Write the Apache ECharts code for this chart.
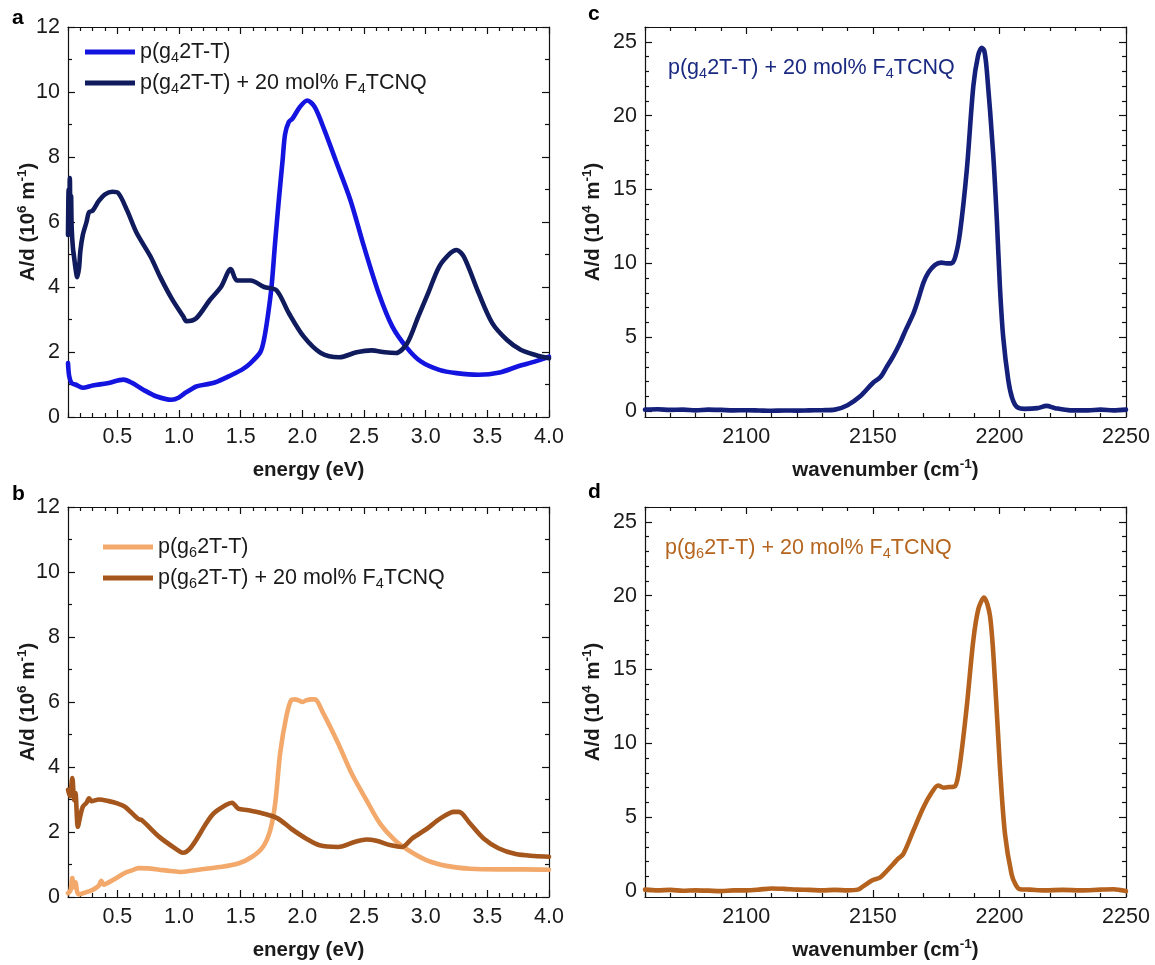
<!DOCTYPE html>
<html><head><meta charset="utf-8">
<script src="https://cdn.jsdelivr.net/npm/echarts@6/dist/echarts.min.js"></script>
<style>html,body{margin:0;padding:0;background:#fff}#chart{width:1155px;height:965px}</style>
</head><body><div id="chart"></div>
<script>
// ---------- DATA ----------
// Panel a: p(g4 2T-T)
const energyA1 = [0.10,0.11,0.13,0.16,0.22,0.30,0.42,0.55,0.62,0.71,0.82,0.94,1.00,1.05,1.11,1.14,1.29,1.43,1.52,1.58,1.66,1.69,1.72,1.75,1.78,1.81,1.84,1.86,1.89,1.92,1.98,2.04,2.10,2.18,2.27,2.39,2.50,2.62,2.73,2.85,2.96,3.11,3.25,3.43,3.60,3.75,3.89,4.00];
const valueA1  = [1.66,1.25,1.04,1.00,0.90,0.97,1.04,1.15,1.05,0.84,0.63,0.53,0.60,0.74,0.88,0.94,1.06,1.30,1.48,1.66,2.00,2.40,3.10,4.00,5.40,6.70,7.90,8.70,9.08,9.18,9.54,9.74,9.54,8.82,7.90,6.67,5.24,3.80,2.78,2.12,1.71,1.45,1.35,1.30,1.37,1.56,1.71,1.86];
// Panel a: p(g4 2T-T) + 20 mol% F4TCNQ
const energyA2 = [0.100,0.105,0.110,0.115,0.120,0.125,0.130,0.140,0.150,0.160,0.175,0.190,0.200,0.220,0.250,0.270,0.300,0.350,0.400,0.460,0.505,0.58,0.657,0.77,0.846,0.94,1.035,1.06,1.14,1.25,1.34,1.42,1.47,1.58,1.69,1.79,1.89,2.01,2.15,2.30,2.44,2.56,2.67,2.76,2.85,2.94,3.02,3.11,3.20,3.25,3.31,3.43,3.54,3.66,3.77,3.89,4.00];
const valueA2  = [5.6,7.0,6.0,7.35,5.7,6.8,5.8,5.2,4.9,4.6,4.3,4.6,5.1,5.6,6.0,6.3,6.35,6.65,6.85,6.93,6.90,6.35,5.66,4.93,4.32,3.65,3.09,2.95,3.04,3.60,4.00,4.55,4.20,4.20,4.00,3.90,3.20,2.48,1.97,1.84,1.99,2.05,1.99,1.97,2.27,3.09,3.81,4.63,5.04,5.14,4.93,3.81,2.89,2.37,2.07,1.91,1.81];
// Panel b: p(g6 2T-T)
const energyB1 = [0.10,0.12,0.135,0.145,0.16,0.175,0.19,0.21,0.25,0.30,0.35,0.37,0.39,0.43,0.50,0.56,0.62,0.67,0.75,0.84,0.93,1.02,1.16,1.33,1.48,1.59,1.68,1.74,1.78,1.82,1.87,1.91,1.94,1.97,2.00,2.03,2.07,2.10,2.17,2.29,2.40,2.52,2.63,2.75,2.86,3.01,3.18,3.36,3.59,3.80,4.00];
const valueB1  = [0.12,0.20,0.58,0.30,0.45,0.15,0.08,0.10,0.15,0.22,0.35,0.50,0.38,0.45,0.60,0.74,0.82,0.89,0.88,0.84,0.80,0.77,0.84,0.92,1.03,1.23,1.54,2.06,2.88,4.42,5.55,6.06,6.08,6.05,6.00,6.05,6.08,6.08,5.65,4.73,3.80,2.98,2.26,1.75,1.44,1.13,0.95,0.87,0.85,0.85,0.84];
// Panel b: p(g6 2T-T) + 20 mol% F4TCNQ
const energyB2 = [0.10,0.115,0.135,0.15,0.16,0.18,0.20,0.22,0.25,0.27,0.29,0.35,0.43,0.50,0.56,0.67,0.70,0.84,0.99,1.03,1.10,1.22,1.28,1.38,1.43,1.48,1.56,1.68,1.80,1.91,2.03,2.14,2.29,2.43,2.52,2.60,2.72,2.81,2.89,3.01,3.12,3.23,3.27,3.36,3.47,3.59,3.73,3.88,4.00];
const valueB2  = [3.30,3.10,3.66,2.98,3.20,2.16,2.50,2.78,2.90,3.04,2.95,3.00,2.95,2.88,2.78,2.40,2.36,1.85,1.44,1.36,1.54,2.26,2.57,2.83,2.90,2.72,2.67,2.57,2.42,2.10,1.80,1.59,1.54,1.70,1.77,1.73,1.59,1.54,1.80,2.10,2.42,2.62,2.62,2.26,1.80,1.50,1.32,1.26,1.24];
// Panel c: p(g4 2T-T) + 20 mol% F4TCNQ, IR
const waveC  = [2060,2065,2070,2075,2080,2085,2090,2095,2100,2105,2110,2115,2120,2125,2130,2135,2140,2145,2150,2153,2155.5,2158,2160.7,2163,2166,2168,2170,2172,2174.6,2177,2179.2,2181,2182.5,2184.4,2187.1,2189.7,2191.5,2193,2194,2195,2197.5,2199,2200.2,2201.5,2203.5,2205,2206.8,2210,2215,2218.6,2222,2228,2235,2240,2245,2250];
const valueC = [0.10,0.12,0.08,0.10,0.05,0.10,0.08,0.05,0.06,0.04,0.02,0.04,0.03,0.05,0.06,0.10,0.40,1.00,1.90,2.30,3.00,3.70,4.60,5.50,6.60,7.60,8.70,9.40,9.90,10.05,10.00,10.00,10.40,12.05,16.30,22.00,24.00,24.60,24.40,23.10,17.50,12.90,8.40,5.00,2.10,0.90,0.30,0.15,0.20,0.35,0.20,0.05,0.05,0.10,0.05,0.10];
// Panel d: p(g6 2T-T) + 20 mol% F4TCNQ, IR
const waveD  = [2060,2065,2070,2075,2080,2085,2090,2095,2100,2105,2110,2115,2120,2125,2130,2135,2140,2144,2146,2150,2152.8,2155.5,2158,2160,2162,2166,2170,2173,2175.8,2178,2180,2182.5,2184.4,2187.1,2189.7,2191.7,2193.9,2196.3,2198.3,2200.2,2202.2,2204.8,2206.5,2208.1,2212,2218,2225,2232,2240,2245,2250];
const valueD = [0.10,0.05,0.08,0.02,0.05,0.03,0.00,0.05,0.05,0.10,0.18,0.15,0.10,0.08,0.05,0.08,0.05,0.10,0.30,0.75,0.91,1.36,1.82,2.20,2.50,4.09,5.67,6.60,7.15,7.00,7.04,7.10,8.60,12.50,17.00,19.10,19.87,18.60,14.10,8.40,3.86,1.14,0.40,0.12,0.10,0.05,0.08,0.05,0.10,0.12,0.00];

// Tick labels
const energyTicks = [0.5,1.0,1.5,2.0,2.5,3.0,3.5,4.0];
const uvTicks = [0,2,4,6,8,10,12];
const waveTicks = [2100,2150,2200,2250];
const irTicks = [0,5,10,15,20,25];

// ---------- STYLE ----------
const FONT = '"Liberation Sans", Arial, Helvetica, sans-serif';
const C = {
  a1:'#1414e0', a2:'#0f1b5c', b1:'#f2a96b', b2:'#a5561c', c:'#14207a', d:'#b5621e'
};
const grids = [
  {left:68, top:27, width:481, height:390},
  {left:68, top:507, width:481, height:390},
  {left:645, top:27, width:481, height:390},
  {left:645, top:507, width:481, height:390}
];
function zip(xs, ys){ return xs.map((x,i)=>[x, ys[i]]); }
function minors(min, max, step, majors){
  const out=[]; const n=Math.round((max-min)/step);
  for(let i=0;i<=n;i++){ const v=+(min+i*step).toFixed(6); if(!majors.some(m=>Math.abs(m-v)<1e-6)) out.push(v); }
  return out;
}
const supRich = {sup:{fontSize:13.5, fontWeight:'bold', lineHeight:13, verticalAlign:'top', fontFamily:FONT, color:'#1a1a1a'}};
const xAxes=[], yAxes=[];
function addAxes(gi, xc, yc){
  const line = {color:'#111', width:1.2};
  const xi = xAxes.length;
  xAxes.push({gridIndex:gi, type:'value', position:'bottom', min:xc.min, max:xc.max,
    axisLine:{show:true, onZero:false, lineStyle:line},
    axisTick:{show:true, inside:true, length:7, customValues:xc.majors, lineStyle:line},
    axisLabel:{show:true, customValues:xc.majors, formatter:xc.fmt, fontSize:21.5, color:'#1a1a1a', margin:9, fontFamily:FONT},
    splitLine:{show:false},
    name:xc.name, nameLocation:'middle', nameGap:xc.gap, nameMoveOverlap:false,
    nameTextStyle:{fontSize:20.5, fontWeight:'bold', color:'#1a1a1a', fontFamily:FONT, lineHeight:26, rich:supRich}});
  xAxes.push({gridIndex:gi, type:'value', position:'bottom', min:xc.min, max:xc.max,
    axisLine:{show:false, onZero:false}, axisTick:{show:true, inside:true, length:4, customValues:xc.minors, lineStyle:line},
    axisLabel:{show:false}, splitLine:{show:false}});
  xAxes.push({gridIndex:gi, type:'value', position:'top', min:xc.min, max:xc.max,
    axisLine:{show:true, onZero:false, lineStyle:line}, axisTick:{show:true, inside:true, length:7, customValues:xc.majors, lineStyle:line},
    axisLabel:{show:false}, splitLine:{show:false}});
  xAxes.push({gridIndex:gi, type:'value', position:'top', min:xc.min, max:xc.max,
    axisLine:{show:false, onZero:false}, axisTick:{show:true, inside:true, length:4, customValues:xc.minors, lineStyle:line},
    axisLabel:{show:false}, splitLine:{show:false}});
  const yi = yAxes.length;
  yAxes.push({gridIndex:gi, type:'value', position:'left', min:yc.min, max:yc.max,
    axisLine:{show:true, onZero:false, lineStyle:line},
    axisTick:{show:true, inside:true, length:7, customValues:yc.majors, lineStyle:line},
    axisLabel:{show:true, customValues:yc.majors, fontSize:21.5, color:'#1a1a1a', margin:8, fontFamily:FONT},
    splitLine:{show:false},
    name:yc.name, nameLocation:'middle', nameGap:yc.gap, nameMoveOverlap:false,
    nameTextStyle:{fontSize:20.5, fontWeight:'bold', color:'#1a1a1a', fontFamily:FONT, lineHeight:26, rich:supRich}});
  yAxes.push({gridIndex:gi, type:'value', position:'left', min:yc.min, max:yc.max,
    axisLine:{show:false, onZero:false}, axisTick:{show:true, inside:true, length:4, customValues:yc.minors, lineStyle:line},
    axisLabel:{show:false}, splitLine:{show:false}});
  yAxes.push({gridIndex:gi, type:'value', position:'right', min:yc.min, max:yc.max,
    axisLine:{show:true, onZero:false, lineStyle:line}, axisTick:{show:true, inside:true, length:7, customValues:yc.majors, lineStyle:line},
    axisLabel:{show:false}, splitLine:{show:false}});
  yAxes.push({gridIndex:gi, type:'value', position:'right', min:yc.min, max:yc.max,
    axisLine:{show:false, onZero:false}, axisTick:{show:true, inside:true, length:4, customValues:yc.minors, lineStyle:line},
    axisLabel:{show:false}, splitLine:{show:false}});
  return {xi, yi};
}
const eX = {min:0.1, max:4.0, majors:energyTicks, minors:minors(0.1,4.0,0.1,energyTicks), fmt:v=>(+v).toFixed(1), name:'energy (eV)', gap:40};
const uvY = {min:0, max:12, majors:uvTicks, minors:minors(0,12,1,uvTicks), name:'A/d (10{sup|6} m{sup|-1})', gap:27};
const wX = {min:2060, max:2250, majors:waveTicks, minors:minors(2060,2250,10,waveTicks), fmt:v=>String(Math.round(v)), name:'wavenumber (cm{sup|-1})', gap:40};
const irY = {min:-0.4, max:26, majors:irTicks, minors:minors(0,26,1,irTicks), name:'A/d (10{sup|4} m{sup|-1})', gap:39};
const A = addAxes(0, eX, uvY);
const B = addAxes(1, eX, uvY);
const Cc = addAxes(2, wX, irY);
const D = addAxes(3, wX, irY);

function ser(name, ax, data, color){
  return {name, type:'line', xAxisIndex:ax.xi, yAxisIndex:ax.yi, data, showSymbol:false, symbol:'none',
    smooth:0.3, lineStyle:{color, width:4.6, join:'round', cap:'round'}, itemStyle:{color}, emphasis:{disabled:true}, animation:false, z:3};
}
const legendText = {
  'g4':'p(g{sub|4}2T-T)', 'g4d':'p(g{sub|4}2T-T) + 20 mol% F{sub|4}TCNQ',
  'g6':'p(g{sub|6}2T-T)', 'g6d':'p(g{sub|6}2T-T) + 20 mol% F{sub|4}TCNQ'
};
const legendStyle = {fontSize:21.5, fontFamily:FONT, color:'#1a1a1a', lineHeight:26,
  rich:{sub:{fontSize:14.5, lineHeight:14, verticalAlign:'bottom', fontFamily:FONT, color:'#1a1a1a'}}};
function legend(names, left, top){
  return {data:names, left, top, orient:'vertical', icon:'rect', itemWidth:50, itemHeight:5, itemGap:5,
    selectedMode:false, formatter:n=>legendText[n], textStyle:legendStyle, padding:0};
}
function annot(left, top, text, color){
  return {type:'text', left, top, z:10, style:{text, fill:color, fontSize:21.5, fontFamily:FONT, lineHeight:26,
    rich:{s:{fontSize:14.5, lineHeight:14, verticalAlign:'bottom', fill:color, fontFamily:FONT}}}};
}
function letter(left, top, t){
  return {type:'text', left, top, style:{text:t, fill:'#000', fontSize:21, fontWeight:'bold', fontFamily:FONT}};
}

const option = {
  backgroundColor:'#ffffff',
  animation:false,
  grid:grids,
  xAxis:xAxes,
  yAxis:yAxes,
  legend:[legend(['g4','g4d'], 85, 39), legend(['g6','g6d'], 103, 534)],
  series:[
    ser('g4', A, zip(energyA1, valueA1), C.a1),
    ser('g4d', A, zip(energyA2, valueA2), C.a2),
    ser('g6', B, zip(energyB1, valueB1), C.b1),
    ser('g6d', B, zip(energyB2, valueB2), C.b2),
    ser('c', Cc, zip(waveC, valueC), C.c),
    ser('d', D, zip(waveD, valueD), C.d)
  ],
  graphic:[
    letter(12, 8, 'a'), letter(12, 484, 'b'), letter(588, 4, 'c'), letter(588, 482, 'd'),
    annot(668, 55, 'p(g{s|4}2T-T) + 20 mol% F{s|4}TCNQ', '#1a2a80'),
    annot(665, 535, 'p(g{s|6}2T-T) + 20 mol% F{s|4}TCNQ', '#b5651e')
  ]
};
const chart = echarts.init(document.getElementById('chart'), null, {renderer:'canvas'});
chart.setOption(option);
</script></body></html>
